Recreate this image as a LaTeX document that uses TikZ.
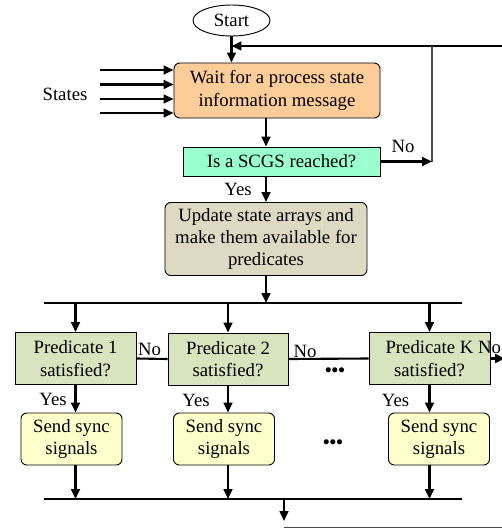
\documentclass[tikz,border=0pt]{standalone}
\usepackage{fontspec}
\setmainfont{Liberation Serif}
\usetikzlibrary{positioning}
\usetikzlibrary{shapes.geometric}
\usetikzlibrary{arrows.meta}
\definecolor{waitfill}{RGB}{252,204,153}
\definecolor{scgsfill}{RGB}{153,255,204}
\definecolor{updfill}{RGB}{221,217,195}
\definecolor{predfill}{RGB}{215,228,189}
\definecolor{sendfill}{RGB}{255,255,204}
\tikzset{>={Triangle[length=8.5pt,width=7.5pt]}}
\tikzset{ed/.style={inner sep=0pt,font=\fontsize{16}{19}\selectfont}}
\tikzset{blk/.style={ed,draw,line width=0.8pt,align=center}}
\tikzset{rblk/.style={blk,rounded corners=5pt}}
\tikzset{fl/.style={line width=1.8pt}}
\tikzset{gl/.style={line width=0.9pt,draw=black!70}}

\begin{document}
\begin{tikzpicture}[x=0.03cm,y=-0.03cm]
\useasboundingbox (0,0) rectangle (502,529);

\node[blk,ellipse,minimum width=2.31cm,minimum height=0.93cm] (start) at (231.5,20.5) {Start};
\node[rblk,fill=waitfill,minimum width=6.18cm,minimum height=1.65cm] (wait) at (277,90.5)
  {Wait for a process state\\information message};
\node[blk,fill=scgsfill,minimum width=5.91cm,minimum height=0.87cm] (scgs) at (281.5,161.5)
  {Is a SCGS reached?};
\node[rblk,fill=updfill,minimum width=6.06cm,minimum height=2.19cm] (upd) at (266,239)
  {Update state arrays and\\make them available for\\predicates};

\node[blk,fill=predfill,minimum width=3.63cm,minimum height=1.56cm] (p1) at (75.5,358.5)
  {Predicate 1\\satisfied?};
\node[blk,fill=predfill,minimum width=3.6cm,minimum height=1.56cm] (p2) at (228,359)
  {Predicate 2\\satisfied?};
\node[blk,fill=predfill,minimum width=3.63cm,minimum height=1.56cm] (pk) at (429.5,358.5)
  {Predicate K\\satisfied?};

\node[rblk,fill=sendfill,minimum width=3.03cm,minimum height=1.56cm] (s1) at (71.5,439)
  {Send sync\\signals};
\node[rblk,fill=sendfill,minimum width=3.03cm,minimum height=1.56cm] (s2) at (224,439)
  {Send sync\\signals};
\node[rblk,fill=sendfill,minimum width=3.03cm,minimum height=1.56cm] (sk) at (439,439)
  {Send sync\\signals};

\node[ed] (states) at (65,94) {States};
\node[ed] (noscgs) at (403,146) {No};
\node[ed] (yesscgs) at (238,189) {Yes};
\node[ed] (no1) at (149.5,349) {No};
\node[ed] (no2) at (305,351) {No};
\node[ed] (nok) at (489.5,347) {No};
\node[ed] (yes1) at (53,399) {Yes};
\node[ed] (yes2) at (196,400) {Yes};
\node[ed] (yesk) at (395.5,400) {Yes};
\node[ed] (dots1) at (335,372) {\textbf{•••}};
\node[ed] (dots2) at (333,444) {\textbf{•••}};

\coordinate (st1) at (100,70);
\coordinate (st2) at (100,84.5);
\coordinate (st3) at (100,99);
\coordinate (st4) at (100,113);
\coordinate (loopR) at (506,46);
\coordinate (noJ) at (432,161.5);
\coordinate (b1l) at (44,303);
\coordinate (b1r) at (462,303);
\coordinate (b2l) at (44,499);
\coordinate (b2r) at (462,499);
\coordinate (b2o) at (284,499);
\coordinate (ex) at (284,521);
\coordinate (ret) at (506,527.5);
\coordinate (pkout) at (505,358.5);

\draw[fl,->] (start.south) -- (start.south |- wait.north);
\draw[fl,->] (loopR) -- (loopR -| start);
\draw[gl] (noJ) -- (noJ |- loopR);

\draw[fl,->] (st1) -- (st1 -| wait.west);
\draw[fl,->] (st2) -- (st2 -| wait.west);
\draw[fl,->] (st3) -- (st3 -| wait.west);
\draw[fl,->] (st4) -- (st4 -| wait.west);

\draw[fl,->] (wait.south -| upd) -- (scgs.north -| upd);
\draw[fl,->] (scgs.east) -- (noJ);
\draw[fl,->] (scgs.south -| upd) -- (upd.north);
\draw[fl,->] (upd.south) -- (upd.south |- b1l);

\draw[fl] (b1l) -- (b1r);
\draw[fl,->] (p1 |- b1l) -- (p1.north);
\draw[fl,->] (p2 |- b1l) -- (p2.north);
\draw[fl,->] (pk |- b1l) -- (pk.north);

\draw[fl] (p1.east) -- (p2.west);
\draw[fl] (p2.east) -- (pk.west);
\draw[fl,->] (pk.east) -- (pkout);

\draw[fl,->] (p1.south) -- (p1.south |- s1.north);
\draw[fl,->] (p2.south) -- (p2.south |- s2.north);
\draw[fl,->] (pk.south) -- (pk.south |- sk.north);

\draw[fl,->] (s1.south -| p1) -- (p1 |- b2l);
\draw[fl,->] (s2.south -| p2) -- (p2 |- b2l);
\draw[fl,->] (sk.south -| pk) -- (pk |- b2l);
\draw[fl] (b2l) -- (b2r);

\draw[fl,->] (b2o) -- (ex);
\draw[gl] (ex |- ret) -- (ret);

\end{tikzpicture}
\end{document}
